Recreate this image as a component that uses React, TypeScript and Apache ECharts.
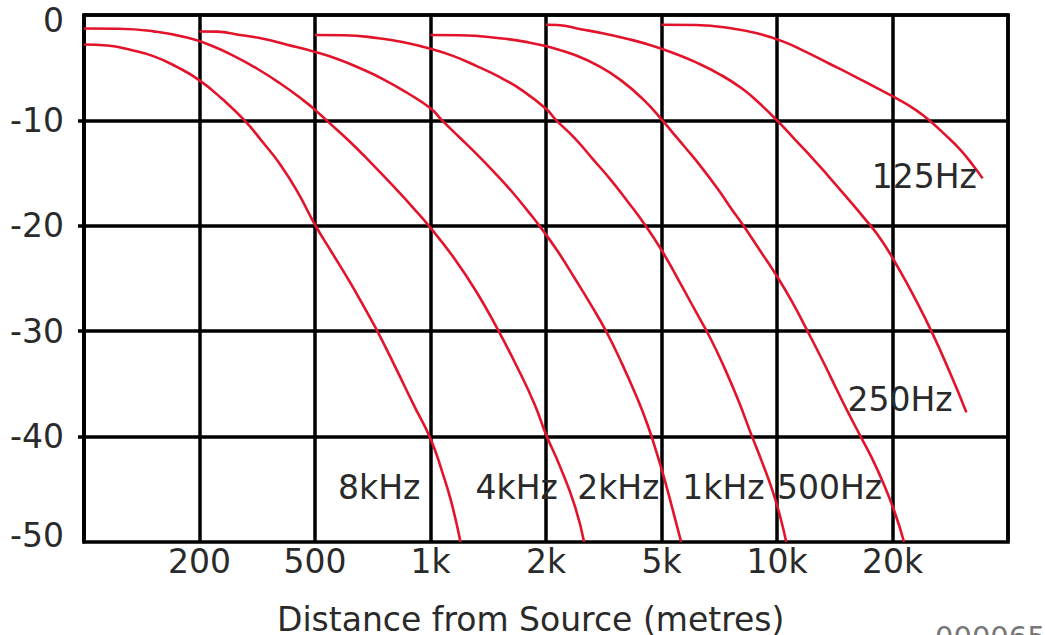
import React, { useEffect, useRef } from "react";
import * as echarts from "echarts";

// X axis: equally spaced tick positions (index 0 = 100 m, 8 = 50 km)
const xTickLabels = ["", "200", "500", "1k", "2k", "5k", "10k", "20k", ""];
const yTickValues = [0, -10, -20, -30, -40, -50];
const xAxisTitle = "Distance from Source (metres)";

// Each point: [position on distance axis (tick index), level in dB]
const curve8kHz: [number, number][] = [
  [0, -2.8], [0.2, -2.9], [0.4, -3.3], [0.6, -3.9], [0.8, -4.9], [1.0, -6.2], [1.2, -8.0],
  [1.39, -10], [1.55, -12.1], [1.7, -14.2], [1.85, -16.8], [2.0, -19.9], [2.15, -22.6],
  [2.3, -25.3], [2.45, -28.2], [2.55, -30.2], [2.7, -33.5], [2.85, -36.9], [3.0, -40.2],
  [3.1, -43.3], [3.18, -46.2], [3.26, -50],
];
const curve4kHz: [number, number][] = [
  [0, -1.28], [0.3, -1.3], [0.6, -1.55], [0.9, -2.15], [1.1, -2.9], [1.3, -3.9], [1.5, -5.1],
  [1.7, -6.5], [1.9, -8.1], [2.0, -9.0], [2.1, -10], [2.3, -12.0], [2.5, -14.2], [2.7, -16.5],
  [2.85, -18.3], [3.0, -20.2], [3.2, -23.0], [3.4, -26.3], [3.59, -30], [3.75, -33.4],
  [3.9, -36.9], [4.0, -39.8], [4.12, -42.8], [4.25, -46.6], [4.33, -50],
];
const curve2kHz: [number, number][] = [
  [1.0, -1.56], [1.15, -1.58], [1.35, -1.9], [1.55, -2.25], [1.75, -2.8], [2.0, -3.5],
  [2.2, -4.2], [2.4, -5.1], [2.6, -6.15], [2.8, -7.4], [3.0, -8.85], [3.1, -10.0],
  [3.25, -11.6], [3.4, -13.2], [3.55, -14.9], [3.7, -16.7], [3.85, -18.7], [3.95, -20.1],
  [4.1, -22.4], [4.25, -25.0], [4.4, -27.7], [4.52, -30.0], [4.65, -32.9], [4.78, -36.1],
  [4.88, -38.9], [4.96, -41.6], [5.04, -44.6], [5.12, -47.9], [5.17, -50],
];
const curve1kHz: [number, number][] = [
  [2.0, -1.9], [2.25, -1.92], [2.55, -2.2], [2.75, -2.55], [3.0, -3.2], [3.2, -3.9],
  [3.4, -4.85], [3.6, -5.9], [3.8, -7.2], [4.0, -8.9], [4.09, -10], [4.25, -11.7],
  [4.4, -13.6], [4.55, -15.5], [4.7, -17.6], [4.85, -19.8], [5.0, -22.3], [5.15, -25.2],
  [5.3, -28.2], [5.42, -30.6], [5.55, -33.6], [5.67, -36.7], [5.77, -39.6], [5.87, -42.4],
  [5.96, -45.1], [6.03, -47.7], [6.08, -50],
];
const curve500Hz: [number, number][] = [
  [3.0, -1.9], [3.25, -1.92], [3.6, -2.2], [3.85, -2.6], [4.05, -3.1], [4.25, -3.8],
  [4.45, -4.8], [4.65, -6.2], [4.85, -8.1], [5.0, -9.9], [5.1, -11.2], [5.2, -12.5],
  [5.35, -14.5], [5.5, -16.7], [5.6, -18.3], [5.71, -20.0], [5.85, -22.3], [6.0, -24.8],
  [6.13, -27.2], [6.26, -29.9], [6.4, -32.9], [6.52, -35.6], [6.62, -37.8], [6.72, -39.9],
  [6.82, -42.0], [6.92, -44.4], [7.02, -47.2], [7.1, -50],
];
const curve250Hz: [number, number][] = [
  [4.0, -0.92], [4.1, -0.95], [4.3, -1.35], [4.5, -1.75], [4.7, -2.25], [4.9, -2.85],
  [5.1, -3.6], [5.3, -4.5], [5.5, -5.6], [5.7, -7.0], [5.85, -8.4], [6.0, -10],
  [6.15, -11.75], [6.3, -13.5], [6.45, -15.35], [6.6, -17.25], [6.75, -19.2], [6.9, -21.3],
  [7.05, -24.0], [7.2, -27.0], [7.35, -30.3], [7.5, -34.0], [7.64, -37.7],
];
const curve125Hz: [number, number][] = [
  [5.0, -0.92], [5.3, -0.95], [5.6, -1.25], [5.85, -1.8], [6.05, -2.5], [6.25, -3.5],
  [6.45, -4.6], [6.65, -5.7], [6.85, -6.85], [7.05, -8.0], [7.2, -9.0], [7.33, -10.1],
  [7.45, -11.3], [7.58, -12.7], [7.7, -14.3], [7.78, -15.5],
];

const curveNames = ["8kHz", "4kHz", "2kHz", "1kHz", "500Hz", "250Hz", "125Hz"];
const curves = [curve8kHz, curve4kHz, curve2kHz, curve1kHz, curve500Hz, curve250Hz, curve125Hz];
// label anchor (left edge, vertical centre) in axis units
const labelAnchors: [number, number][] = [
  [2.2, -44.8], [3.39, -44.8], [4.27, -44.8], [5.18, -44.8], [6.0, -44.8], [6.61, -36.5], [6.82, -15.33],
];

const FONT = '"DejaVu Sans", Verdana, sans-serif';
const TEXT = "#2a2a2a";
const RED = "#e3132b";
const GRIDW = 3.5;

export default function App() {
  const ref = useRef<HTMLDivElement>(null);
  useEffect(() => {
    if (!ref.current) return;
    const chart = echarts.init(ref.current, undefined, { renderer: "svg" });
    const labelRich = {
      top: { fontFamily: FONT, fontSize: 33, color: TEXT, padding: [10, 0, 0, 0] },
      bot: { fontFamily: FONT, fontSize: 33, color: TEXT, padding: [0, 0, 14, 0] },
    };
    const option: any = {
      animation: false,
      backgroundColor: "#fff",
      grid: {
        left: 84, right: 37, top: 15, bottom: 93,
        show: true, borderColor: "#000", borderWidth: GRIDW, backgroundColor: "transparent",
      },
      title: {
        text: xAxisTitle, left: 272, top: 598,
        textStyle: { fontFamily: FONT, fontSize: 33, fontWeight: "normal", color: TEXT },
      },
      xAxis: {
        type: "value", min: 0, max: 8, interval: 1,
        axisLine: { show: true, lineStyle: { color: "#000", width: GRIDW } },
        axisTick: { show: false },
        splitLine: { show: true, lineStyle: { color: "#000", width: GRIDW } },
        axisLabel: {
          margin: 3, fontFamily: FONT, fontSize: 33, color: TEXT,
          formatter: (v: number) => xTickLabels[Math.round(v)] ?? "",
        },
      },
      yAxis: {
        type: "value", min: -50, max: 0, interval: 10,
        axisLine: { show: true, lineStyle: { color: "#000", width: GRIDW } },
        axisTick: { show: true, length: 6, inside: false, customValues: [-10, -20, -30, -40], lineStyle: { color: "#000", width: GRIDW } },
        splitLine: { show: true, lineStyle: { color: "#000", width: GRIDW } },
        axisLabel: {
          margin: 20, fontFamily: FONT, fontSize: 33, color: TEXT,
          customValues: yTickValues,
          rich: labelRich,
          formatter: (v: number) => (v === 0 ? "{top|0}" : v === -50 ? "{bot|-50}" : String(v)),
        },
      },
      series: curves.map((data, i) => ({
        name: curveNames[i],
        type: "line",
        data,
        showSymbol: false,
        smooth: 0.5,
        lineStyle: { color: RED, width: 2.6 },
        z: 3,
      })),
    };
    chart.setOption(option);
    const texts: any[] = curveNames.map((name, i) => {
      const p = chart.convertToPixel({ gridIndex: 0 }, labelAnchors[i]) as number[];
      return {
        type: "text",
        x: p[0], y: p[1], z: 10,
        style: { text: name, font: `33px ${FONT}`, fill: TEXT, textAlign: "left", textVerticalAlign: "middle" },
      };
    });
    texts.push({
      type: "text", x: 935, y: 622, z: 10,
      style: { text: "000065", font: `29px ${FONT}`, fill: "#777", textAlign: "left", textVerticalAlign: "top" },
    });
    chart.setOption({ graphic: texts });
    return () => chart.dispose();
  }, []);
  return (
    <div
      ref={ref}
      style={{ position: "fixed", left: 0, top: 0, width: 1045, height: 635, overflow: "hidden", background: "#fff" }}
    />
  );
}
